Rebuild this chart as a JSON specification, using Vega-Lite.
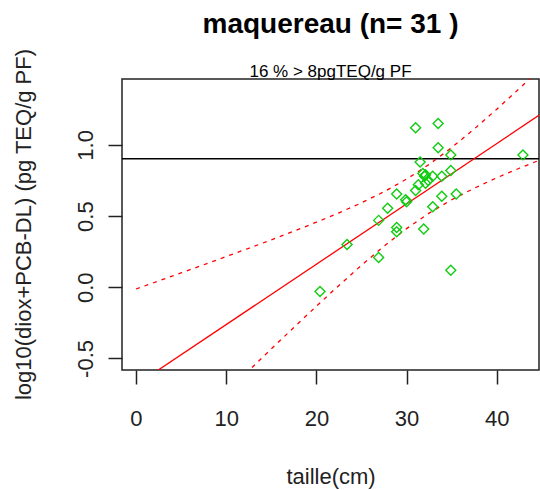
{
  "$schema": "https://vega.github.io/schema/vega-lite/v6.json",
  "width": 417,
  "height": 291,
  "autosize": {"type": "none"},
  "padding": {"left": 122, "top": 79, "right": 1, "bottom": 120},
  "background": "white",
  "title": {
    "text": "maquereau (n= 31 )",
    "subtitle": "16 % > 8pgTEQ/g PF",
    "font": "Liberation Sans",
    "fontSize": 28,
    "fontWeight": "bold",
    "color": "black",
    "subtitleFont": "Liberation Sans",
    "subtitleFontSize": 17,
    "subtitleColor": "black",
    "subtitlePadding": 25,
    "anchor": "middle",
    "frame": "group",
    "offset": -32
  },
  "config": {
    "view": {"stroke": "#222", "strokeWidth": 1.5},
    "axis": {
      "domain": false,
      "grid": false,
      "tickSize": 14,
      "tickWidth": 1.5,
      "tickColor": "#222",
      "labelFont": "Liberation Sans",
      "labelFontSize": 22,
      "labelColor": "#222",
      "labelOverlap": false,
      "labelFlush": false,
      "titleFont": "Liberation Sans",
      "titleFontSize": 22,
      "titleFontWeight": "normal",
      "titleColor": "#222"
    }
  },
  "datasets": {
    "poissons": [
      {"taille": 20.4, "y": -0.03}, {"taille": 23.4, "y": 0.30}, {"taille": 26.9, "y": 0.21},
      {"taille": 26.9, "y": 0.47}, {"taille": 27.9, "y": 0.555}, {"taille": 28.9, "y": 0.655},
      {"taille": 28.9, "y": 0.42}, {"taille": 28.9, "y": 0.39}, {"taille": 29.9, "y": 0.615},
      {"taille": 30.0, "y": 0.60}, {"taille": 31.0, "y": 1.12}, {"taille": 31.9, "y": 0.41},
      {"taille": 33.5, "y": 1.15}, {"taille": 33.5, "y": 0.98}, {"taille": 34.9, "y": 0.93},
      {"taille": 42.9, "y": 0.93}, {"taille": 31.5, "y": 0.88}, {"taille": 31.8, "y": 0.80},
      {"taille": 32.0, "y": 0.78}, {"taille": 32.1, "y": 0.79}, {"taille": 32.9, "y": 0.78},
      {"taille": 33.9, "y": 0.78}, {"taille": 34.9, "y": 0.82}, {"taille": 32.9, "y": 0.565},
      {"taille": 33.9, "y": 0.64}, {"taille": 35.5, "y": 0.655}, {"taille": 34.9, "y": 0.12},
      {"taille": 31.3, "y": 0.72}, {"taille": 31.0, "y": 0.68}, {"taille": 32.1, "y": 0.73},
      {"taille": 32.4, "y": 0.75}
    ],
    "ajustement": [
      {"taille": 0, "y": -0.686}, {"taille": 44.7, "y": 1.209}
    ],
    "bande_haute": [
      {"taille": 0, "y": -0.012}, {"taille": 2.5, "y": 0.044}, {"taille": 5, "y": 0.101},
      {"taille": 7.5, "y": 0.158}, {"taille": 10, "y": 0.216}, {"taille": 12.5, "y": 0.274},
      {"taille": 15, "y": 0.333}, {"taille": 17.5, "y": 0.394}, {"taille": 20, "y": 0.457},
      {"taille": 22.5, "y": 0.523}, {"taille": 25, "y": 0.593}, {"taille": 27.5, "y": 0.671},
      {"taille": 30, "y": 0.76}, {"taille": 32.5, "y": 0.863}, {"taille": 35, "y": 0.981},
      {"taille": 37.5, "y": 1.112}, {"taille": 40, "y": 1.251}, {"taille": 42.5, "y": 1.396},
      {"taille": 44.7, "y": 1.526}
    ],
    "bande_basse": [
      {"taille": 10, "y": -0.74}, {"taille": 12.5, "y": -0.586}, {"taille": 15, "y": -0.433},
      {"taille": 17.5, "y": -0.282}, {"taille": 20, "y": -0.133}, {"taille": 22.5, "y": 0.013},
      {"taille": 25, "y": 0.155}, {"taille": 27.5, "y": 0.289}, {"taille": 30, "y": 0.412},
      {"taille": 32.5, "y": 0.521}, {"taille": 35, "y": 0.615}, {"taille": 37.5, "y": 0.696},
      {"taille": 40, "y": 0.769}, {"taille": 42.5, "y": 0.836}, {"taille": 44.7, "y": 0.892}
    ],
    "seuil": [{"y": 0.903}]
  },
  "encoding": {
    "x": {
      "field": "taille", "type": "quantitative",
      "scale": {"domain": [-1.552, 44.68], "nice": false, "zero": false},
      "axis": {
        "values": [0, 10, 20, 30, 40], "format": "d",
        "labelBaseline": "alphabetic", "labelPadding": 41,
        "title": "taille(cm)", "titleBaseline": "alphabetic", "titleY": 113
      }
    },
    "y": {
      "field": "y", "type": "quantitative",
      "scale": {"domain": [-0.581, 1.463], "nice": false, "zero": false},
      "axis": {
        "values": [-0.5, 0, 0.5, 1], "format": ".1f",
        "labelExpr": "replace(datum.label, '\u2212', '-')",
        "labelAngle": 270, "labelAlign": "center", "labelBaseline": "alphabetic", "labelPadding": 16,
        "title": "log10(diox+PCB-DL) (pg TEQ/g PF)",
        "titleAngle": 270, "titleAlign": "center", "titleBaseline": "alphabetic",
        "titleX": -92, "titleY": 145
      }
    }
  },
  "layer": [
    {
      "data": {"name": "seuil"},
      "mark": {"type": "rule", "color": "black", "strokeWidth": 1.5},
      "encoding": {"x": null}
    },
    {
      "data": {"name": "ajustement"},
      "mark": {"type": "line", "color": "#ff0000", "strokeWidth": 1.3, "clip": true}
    },
    {
      "data": {"name": "bande_haute"},
      "mark": {"type": "line", "color": "#ff0000", "strokeWidth": 1.3, "strokeDash": [4, 5], "clip": true}
    },
    {
      "data": {"name": "bande_basse"},
      "mark": {"type": "line", "color": "#ff0000", "strokeWidth": 1.3, "strokeDash": [4, 5], "clip": true}
    },
    {
      "data": {"name": "poissons"},
      "mark": {"type": "point", "shape": "diamond", "filled": false, "color": "#11cc11", "size": 100, "strokeWidth": 1.4, "opacity": 1, "clip": true}
    }
  ]
}
